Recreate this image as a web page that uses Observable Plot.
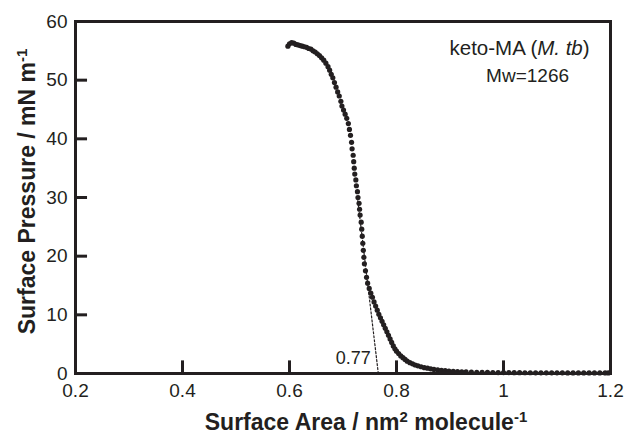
<!DOCTYPE html>
<html><head><meta charset="utf-8">
<script src="https://cdn.jsdelivr.net/npm/d3@7"></script>
<script src="https://cdn.jsdelivr.net/npm/@observablehq/plot@0.6"></script>
<style>body{margin:0;background:#fff}</style>
</head><body><div id="chart"></div>
<script>
const area = [
  0.597,0.600,0.604,0.608,0.612,0.616,0.620,0.624,0.628,0.632,
  0.636,0.640,0.644,0.648,0.652,0.656,0.660,0.664,0.668,0.672,
  0.675,0.678,0.681,0.684,0.687,0.690,0.693,0.696,0.698,0.701,
  0.704,0.707,0.710,0.712,0.714,0.716,0.717,0.719,0.720,0.721,
  0.722,0.724,0.725,0.727,0.728,0.730,0.731,0.732,0.734,0.735,
  0.736,0.737,0.738,0.739,0.740,0.742,0.744,0.746,0.749,0.752,
  0.755,0.758,0.761,0.764,0.767,0.770,0.773,0.776,0.779,0.782,
  0.785,0.788,0.791,0.794,0.797,0.800,0.804,0.808,0.812,0.816,
  0.820,0.825,0.830,0.835,0.840,0.846,0.852,0.858,0.864,0.870,
  0.877,0.884,0.891,0.898,0.906,0.914,0.922,0.930,0.940,0.950,
  0.960,0.970,0.980,0.990,1.000,1.010,1.020,1.030,1.040,1.050,
  1.060,1.070,1.080,1.090,1.100,1.110,1.120,1.130,1.140,1.150,
  1.160,1.170,1.180,1.190,1.196
];
const pressure = [
  55.8,56.2,56.4,56.3,56.1,56.0,55.9,55.8,55.7,55.6,
  55.4,55.3,55.0,54.8,54.5,54.2,53.8,53.4,52.9,52.3,
  51.7,51.0,50.4,49.6,48.8,48.0,47.3,46.4,45.6,44.9,
  44.2,43.5,42.6,41.6,40.6,39.4,38.3,37.2,36.1,35.0,
  34.0,33.0,32.0,31.0,30.0,29.0,28.0,27.0,25.8,24.6,
  23.4,22.2,21.0,19.8,18.7,17.5,16.4,15.4,14.5,13.7,
  13.0,12.2,11.5,10.8,10.1,9.5,8.9,8.3,7.7,7.1,
  6.5,5.9,5.3,4.7,4.2,3.8,3.4,3.0,2.7,2.4,
  2.1,1.85,1.65,1.45,1.3,1.15,1.0,0.9,0.8,0.7,
  0.62,0.55,0.48,0.42,0.37,0.33,0.29,0.26,0.23,0.21,
  0.19,0.18,0.17,0.16,0.15,0.15,0.14,0.14,0.13,0.13,
  0.12,0.12,0.12,0.11,0.11,0.11,0.10,0.10,0.10,0.10,
  0.10,0.09,0.09,0.09,0.09
];
const tangentArea = [0.766, 0.727];
const tangentPressure = [0, 30];
const xTicks = [0.2, 0.4, 0.6, 0.8, 1, 1.2];
const xTickLabels = ["0.2", "0.4", "0.6", "0.8", "1", "1.2"];
const yTicks = [0, 10, 20, 30, 40, 50, 60];
const yTickLabels = ["0", "10", "20", "30", "40", "50", "60"];

const ink = "#231f20";
const points = area.map((a, i) => ({area: a, pressure: pressure[i]}));
const tangent = tangentArea.map((a, i) => ({area: a, pressure: tangentPressure[i]}));

const chart = Plot.plot({
  width: 624, height: 436,
  marginLeft: 75, marginRight: 14, marginTop: 21, marginBottom: 63,
  style: {fontFamily: "'Liberation Sans', Arial, sans-serif", color: ink, background: "#fff"},
  x: {domain: [0.2, 1.2]},
  y: {domain: [0, 60]},
  marks: [
    Plot.axisX(xTicks, {tickSize: 0, tickPadding: 10, fontSize: 19, label: null,
      tickFormat: d => xTickLabels[xTicks.indexOf(d)], fill: ink}),
    Plot.axisY(yTicks, {tickSize: 0, tickPadding: 8, fontSize: 19, label: null,
      tickFormat: d => yTickLabels[yTicks.indexOf(d)], fill: ink}),
    Plot.ruleX(xTicks, {x: d => d, y1: 0, y2: 2.15, stroke: ink, strokeWidth: 3}),
    Plot.ruleY(yTicks, {y: d => d, x1: 0.2, x2: 0.2225, stroke: ink, strokeWidth: 3}),
    Plot.line(tangent, {x: "area", y: "pressure", stroke: ink, strokeWidth: 1.2, strokeDasharray: "2,2"}),
    Plot.dot(points, {x: "area", y: "pressure", r: 2.6, fill: ink, stroke: null}),
    Plot.frame({stroke: ink, strokeWidth: 3}),
    Plot.text(["0.77"], {x: 0.752, y: 2.6, textAnchor: "end", fontSize: 18, fill: ink}),
    Plot.text(["keto-MA (M. tb)"], {x: 1.03, y: 55.4, textAnchor: "middle", fontSize: 20.5, fill: ink}),
    Plot.text(["Mw=1266"], {x: 1.045, y: 50.8, textAnchor: "middle", fontSize: 19, fill: ink}),
    Plot.text(["Surface Area / nm2 molecule-1"], {frameAnchor: "bottom", textAnchor: "middle", dx: 23, dy: 56,
      fontSize: 23, fontWeight: "bold", fill: ink}),
    Plot.text(["Surface Pressure / mN m-1"], {frameAnchor: "left", textAnchor: "middle", rotate: -90, dx: -48, dy: -6,
      fontSize: 23, fontWeight: "bold", fill: ink})
  ]
});
document.getElementById("chart").appendChild(chart);

function rich(match, parts) {
  d3.select(chart).selectAll("text").filter(function() { return this.textContent === match; })
    .each(function() {
      const t = d3.select(this);
      t.text(null);
      let raised = false;
      parts.forEach(p => {
        const s = t.append("tspan").text(p.t);
        if (p.sup) { s.attr("font-size", "65%").attr("dy", "-8"); raised = true; }
        else if (raised) { s.attr("dy", "8"); raised = false; }
        if (p.it) s.attr("font-style", "italic");
      });
    });
}
rich("Surface Area / nm2 molecule-1", [{t: "Surface Area / nm"}, {t: "2", sup: true}, {t: " molecule"}, {t: "-1", sup: true}]);
rich("Surface Pressure / mN m-1", [{t: "Surface Pressure / mN m"}, {t: "-1", sup: true}]);
rich("keto-MA (M. tb)", [{t: "keto-MA ("}, {t: "M. tb", it: true}, {t: ")"}]);
</script>
</body></html>
